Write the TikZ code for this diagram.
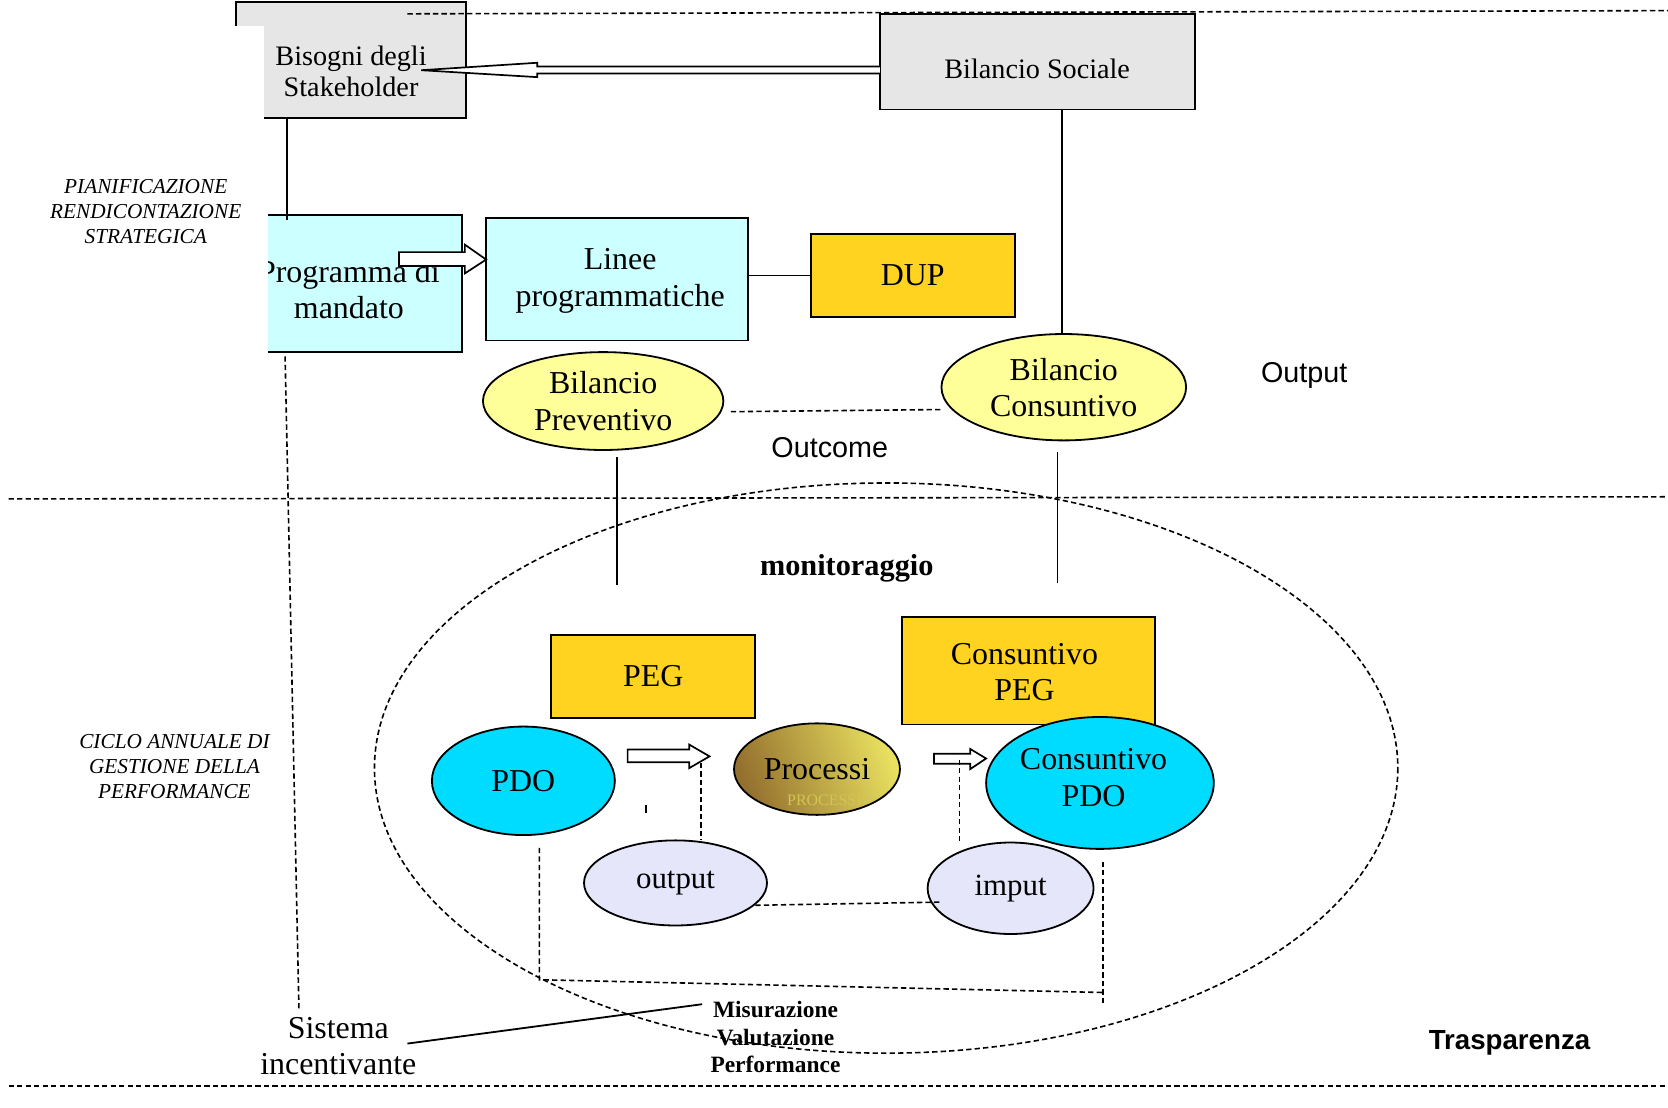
\documentclass[tikz,border=0pt]{standalone}
\usepackage{fontspec}
\setmainfont{Liberation Serif}
\newfontfamily\arialfont{Liberation Sans}
\usetikzlibrary{shapes.geometric,calc}
\definecolor{boxgray}{HTML}{E6E6E6}
\definecolor{lightcyan}{HTML}{CCFFFF}
\definecolor{goldbox}{HTML}{FFD320}
\definecolor{paleyellow}{HTML}{FFFF99}
\definecolor{brightcyan}{HTML}{00DCFF}
\definecolor{lavender}{HTML}{E6E6FA}
\definecolor{procdark}{HTML}{94702E}
\definecolor{proclight}{HTML}{E8E060}
\begin{document}
\begin{tikzpicture}[x=1pt,y=-1pt,
  every node/.style={inner sep=0pt,outer sep=0pt},
  border/.style={draw=black,line width=1.7pt},
  rbox/.style={border,rectangle},
  oval/.style={border,ellipse},
  bigtxt/.style={font=\fontsize{30}{34}\selectfont,align=center},
  midtxt/.style={font=\fontsize{26.5}{29}\selectfont,align=center},
  itxt/.style={font=\fontsize{20}{23.5}\selectfont\itshape,align=center},
  dline/.style={line width=1.5pt,dash pattern=on 5pt off 3pt},
  sline/.style={line width=1.7pt},
  hollow/.style={draw=black,line width=1.6pt,fill=white,line join=miter}
]
\useasboundingbox (0,0) rectangle (1568,1041);

% horizontal separators
\coordinate (t1) at (383,13); \coordinate (t2) at (1568,10);
\coordinate (m1) at (8,469); \coordinate (m2) at (1568,467);
\coordinate (b1) at (8,1021); \coordinate (b2) at (1568,1021);

% Bisogni box with notch
\node[rbox,fill=boxgray,minimum width=216pt,minimum height=109pt] (bis) at (330,56.5) {};
\fill[white] (219,24) rectangle (248.5,115);
\node[midtxt] (bist) at (330,67) {Bisogni degli\\Stakeholder};

% Bilancio Sociale
\node[rbox,fill=boxgray,minimum width=296pt,minimum height=90pt] (bs) at (975,58) {};
\node[midtxt] (bst) at (975,65) {Bilancio Sociale};
\draw[dline] (t1) -- (t2);

% hollow arrow Bilancio Sociale -> Bisogni
\coordinate (tipA) at (396,66);
\draw[hollow] ($(bs.west)+(0,4.5)$) -- (505,62.5) -- (505,59) -- (tipA) -- (505,72.5) -- (505,69) -- ($(bs.west)+(0,11)$);

% Programma di mandato
\node[rbox,fill=lightcyan,minimum width=184pt,minimum height=129pt] (prog) at (342,266.5) {};
\node[bigtxt] (progt) at (328,272) {Programma di\\mandato};
\fill[white] (225,195) rectangle (251.5,340);
\draw[sline] (270,111) -- (270,207);

% Linee programmatiche
\node[rbox,fill=lightcyan,minimum width=246pt,minimum height=115pt] (linee) at (580,262.5) {};
\node[bigtxt] (lineet) at (583,264) {Linee\\programmatiche};

% arrow Programma -> Linee
\draw[hollow] (375,237) -- (437,237) -- (437,230) -- (linee.west |- 0,244) -- (437,257) -- (437,250) -- (375,250) -- cycle;

% DUP
\node[rbox,fill=goldbox,minimum width=192pt,minimum height=78pt,bigtxt] (dup) at (858,259) {DUP};
\draw[sline] (linee.east |- dup.west) -- (dup.west);

% Bilancio Preventivo / Consuntivo
\node[oval,fill=paleyellow,minimum width=226pt,minimum height=92pt,bigtxt] (prev) at (567,377) {Bilancio\\Preventivo};
\node[oval,fill=paleyellow,minimum width=230pt,minimum height=100pt,bigtxt] (cons) at (1000,364) {Bilancio\\Consuntivo};
\draw[sline] (998,103) -- (cons.north -| 998,0);
\draw[dline] (687,387) -- (885,385);

\node[font=\fontsize{27}{32}\selectfont\arialfont] (outl) at (1226,353) {Output};
\node[font=\fontsize{27}{32}\selectfont\arialfont] (outc) at (780,421) {Outcome};

\draw[sline] (580,430) -- (580,550);
\draw[sline] (994,425) -- (994,548);

\draw[dline] (m1) -- (m2);

% big dashed ellipse
\draw[dline] (833,722) ellipse [x radius=481, y radius=268];
\node[font=\fontsize{28.5}{33}\selectfont\bfseries] (moni) at (796,534) {monitoraggio};

% PEG boxes
\node[rbox,fill=goldbox,minimum width=192pt,minimum height=78pt,bigtxt] (peg) at (614,636) {PEG};
\node[rbox,fill=goldbox,minimum width=238pt,minimum height=101pt] (cpeg) at (967,630.5) {};
\node[bigtxt] (cpegt) at (963,632) {Consuntivo\\PEG};

% PDO, Processi, Consuntivo PDO
\node[oval,fill=brightcyan,minimum width=172pt,minimum height=102pt,bigtxt] (pdo) at (492,734) {PDO};
\node[oval,left color=procdark,right color=proclight,shading angle=110,minimum width=156pt,minimum height=86pt] (proc) at (768,723) {};
\node[font=\fontsize{15}{18}\selectfont,text=proclight!75!procdark] (ghost) at (775,752) {PROCESSI};
\node[bigtxt] (proct) at (768,723) {Processi};
\node[oval,fill=brightcyan,minimum width=214pt,minimum height=124pt] (cpdo) at (1034,736) {};
\node[bigtxt] (cpdot) at (1028,731) {Consuntivo\\PDO};

% hollow arrows
\draw[hollow] (590,704.5) -- (648,704.5) -- (648,700) -- (667,711) -- (648,722) -- (648,716.5) -- (590,716.5) -- cycle;
\draw[hollow] (878,708.5) -- (912,708.5) -- (912,704) -- (cpdo.west |- 0,713) -- (912,723) -- (912,718) -- (878,718) -- cycle;
\draw[sline] (607,757) -- (607,764);

% output / imput
\node[oval,fill=lavender,minimum width=172pt,minimum height=80pt,font=\fontsize{29}{33}\selectfont] (outp) at (635,830) {output};
\node[oval,fill=lavender,minimum width=156pt,minimum height=86pt,font=\fontsize{29}{33}\selectfont] (imp) at (950,835) {imput};
\coordinate (a1) at (659,717); \coordinate (a2) at (902,714);
\draw[dline] (a1) -- (outp.north -| a1);
\draw[dline] (a2) -- (imp.north -| a2);
\draw[dline] (710,851) -- (885,848);

% measurement dashed frame
\coordinate (q1) at (507,797); \coordinate (q2) at (507,921);
\coordinate (q3) at (1037,933); \coordinate (q4) at (1037,810); \coordinate (q5) at (1037,943);
\draw[dline] (q1) -- (q2) -- (q3);
\draw[dline] (q4) -- (q5);

% left dashed vertical
\draw[dline] (268,335) -- (281,948);

% bottom texts
\node[bigtxt] (sist) at (318,983) {Sistema\\incentivante};
\node[font=\fontsize{22}{26}\selectfont\bfseries,align=center] (mis) at (729,975) {Misurazione\\Valutazione\\Performance};
\draw[sline] (383,981) -- (660,944);
\node[font=\fontsize{26}{30}\selectfont\bfseries\arialfont] (tras) at (1419,980) {Trasparenza};
\draw[dline] (b1) -- (b2);

% side labels
\node[itxt] (pian) at (137,199) {PIANIFICAZIONE\\RENDICONTAZIONE\\STRATEGICA};
\node[itxt] (ciclo) at (164,721) {CICLO ANNUALE DI\\GESTIONE DELLA\\PERFORMANCE};
\end{tikzpicture}
\end{document}
